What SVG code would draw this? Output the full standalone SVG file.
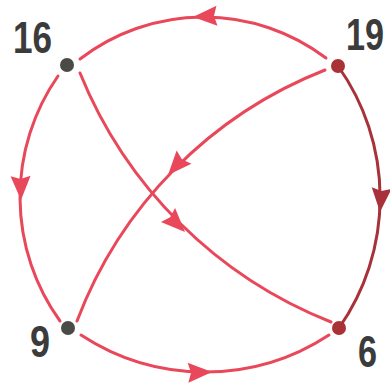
<svg xmlns="http://www.w3.org/2000/svg" xmlns:xlink="http://www.w3.org/1999/xlink" width="390" height="383" viewBox="0 0 390 383">
<style>
.e{fill:none;stroke:#e9475a;stroke-width:3;stroke-linecap:round}
.ed{fill:none;stroke:#a8323a;stroke-width:3;stroke-linecap:round}
.ah{fill:#e9475a}
.ahd{fill:#a8323a}
.lbl{font-family:"Liberation Sans",Arial,sans-serif;font-size:45px;font-weight:bold;fill:#3b3b3b}
.ng{fill:#4a4a46}
.nr{fill:#a83236}
</style>
<defs>
<path id="ar" d="M0,0 L-24,-10 L-21,0 L-24,10 Z"/>
</defs>
<rect width="390" height="383" fill="#ffffff"/>
<g id="connectors">
<path class="e" d="M326,58 A203,203 0 0 0 80,59"/>
<use href="#ar" class="ah" transform="translate(193,17) rotate(177)"/>
<path class="e" d="M58,76 A212,212 0 0 0 60,321"/>
<use href="#ar" class="ah" transform="translate(21,200) rotate(89)"/>
<path class="e" d="M81,335 A226,226 0 0 0 329,335"/>
<use href="#ar" class="ah" transform="translate(212,372) rotate(-2)"/>
<path class="ed" d="M338,66 A227,227 0 0 1 339,328"/>
<use href="#ar" class="ahd" transform="translate(380,212) rotate(94)"/>
<path class="e" d="M80,73 A449,449 0 0 0 331,322"/>
<use href="#ar" class="ah" transform="translate(185,232) rotate(45)"/>
<path class="e" d="M325,70 A435,435 0 0 0 77,321"/>
<use href="#ar" class="ah" transform="translate(168,175) rotate(132)"/>
</g>
<g id="node-16"><circle class="ng" cx="67" cy="65" r="7"/><text class="lbl" transform="translate(13,53) scale(0.78,1)">16</text></g>
<g id="node-19"><circle class="nr" cx="338" cy="66" r="7"/><text class="lbl" transform="translate(346,50) scale(0.76,1)">19</text></g>
<g id="node-9"><circle class="ng" cx="68" cy="328" r="7"/><text class="lbl" transform="translate(30,357) scale(0.8,1)">9</text></g>
<g id="node-6"><circle class="nr" cx="339" cy="328" r="7"/><text class="lbl" transform="translate(358,367) scale(0.76,1)">6</text></g>
</svg>
